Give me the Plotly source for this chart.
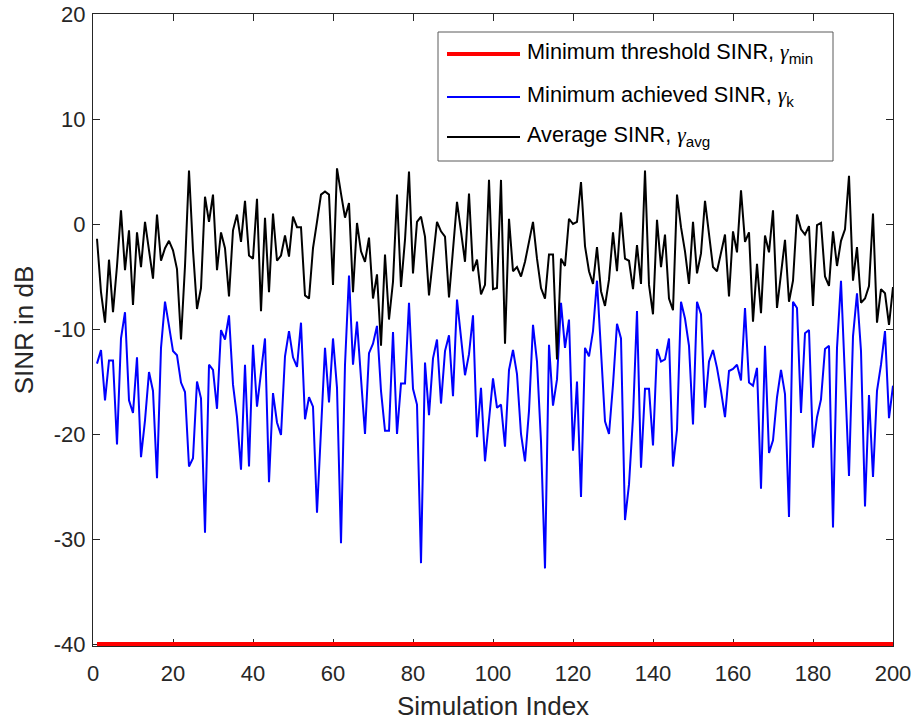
import plotly.graph_objects as go

# ---------------- data ----------------
sim_index = list(range(1, 201))

avg_sinr_db = [
    -1.4, -6.5, -9.4, -3.4, -8.4, -4.0, 1.3, -4.4, -0.6, -7.7,
    -0.8, -4.1, 0.2, -2.6, -5.2, 0.9, -3.5, -2.3, -1.6, -2.5,
    -4.3, -11.0, -4.0, 5.1, -2.5, -8.1, -6.1, 2.6, 0.2, 2.8,
    -4.4, -0.8, -2.3, -6.9, -0.6, 0.9, -1.7, 2.2, -3.0, -3.3,
    2.4, -8.3, 0.6, -6.5, 1.0, -3.5, -3.0, -1.1, -3.1, 0.7,
    -0.3, -0.3, -6.8, -7.1, -2.3, 0.2, 2.8, 3.1, 2.8, -5.8,
    5.3, 2.9, 0.6, 2.0, -6.5, 0.1, -2.6, -3.6, -1.3, -7.1,
    -4.8, -11.6, -2.9, -9.1, -5.5, 2.8, -6.0, -1.5, 5.0, -4.7,
    0.2, 0.7, -1.2, -6.8, -3.3, 0.2, -0.7, -1.2, -7.0, -2.6,
    2.1, -0.7, -3.6, 2.9, -4.5, -3.4, -6.7, -5.8, 4.2, -6.2,
    -6.1, 4.2, -11.4, 0.5, -4.5, -4.1, -5.0, -3.6, -1.7, 0.2,
    -3.3, -6.1, -7.1, -2.9, -2.9, -12.9, -3.3, -4.0, 0.5, 0.0,
    0.2, 4.0, -2.1, -4.5, -5.7, -2.2, -6.4, -7.8, -5.3, -0.8,
    -4.5, 1.1, -3.3, -3.5, -6.2, -2.0, -5.7, 5.1, -5.8, -8.6,
    0.4, -4.1, -1.0, -7.1, -8.2, 2.8, -0.3, -2.6, -5.7, 0.2,
    -4.7, -2.8, 2.2, -1.2, -4.1, -4.5, -2.6, -1.0, -6.9, -0.7,
    -2.7, 3.2, -1.7, -0.8, -9.3, -3.8, -8.5, -1.1, -2.7, 1.3,
    -8.0, -4.5, -1.5, -7.4, -5.4, 0.9, -0.5, -1.0, -0.2, -7.8,
    -0.1, 0.1, -5.0, -5.9, -0.7, -4.0, -1.6, -0.5, 4.6, -5.4,
    -2.2, -7.5, -7.1, -5.9, 1.0, -9.4, -6.2, -6.6, -9.6, -6.0,
]

min_achieved_sinr_db = [
    -13.3, -12.0, -16.8, -13.0, -13.0, -21.0, -10.9, -8.4, -16.8, -18.0,
    -12.7, -22.2, -18.7, -14.1, -15.9, -24.2, -11.8, -7.4, -9.7, -12.1,
    -12.5, -15.1, -16.0, -23.1, -22.3, -15.0, -16.6, -29.4, -13.4, -13.9,
    -17.6, -10.1, -11.0, -8.7, -15.3, -18.4, -23.4, -13.4, -23.1, -11.5,
    -17.4, -14.2, -10.9, -24.6, -16.1, -18.9, -20.1, -12.6, -10.2, -12.7,
    -13.6, -9.4, -18.6, -16.5, -17.4, -27.5, -19.7, -11.8, -17.0, -10.9,
    -15.6, -30.4, -13.4, -4.9, -13.4, -9.3, -14.7, -20.0, -12.3, -11.4,
    -9.7, -15.9, -19.7, -19.7, -10.3, -20.0, -15.2, -15.2, -7.5, -15.7,
    -17.2, -32.3, -13.2, -18.2, -12.8, -11.0, -17.1, -12.1, -10.6, -16.4,
    -7.2, -10.9, -14.4, -12.4, -8.7, -20.3, -15.6, -22.6, -18.6, -14.7,
    -17.5, -17.2, -21.2, -13.9, -12.0, -14.3, -20.0, -22.6, -17.8, -9.6,
    -13.1, -20.7, -32.8, -11.5, -17.3, -14.8, -7.5, -11.8, -9.1, -21.6,
    -15.0, -26.0, -11.8, -12.6, -10.2, -5.4, -12.1, -18.8, -20.0, -15.3,
    -9.5, -10.9, -28.2, -24.8, -18.4, -8.3, -23.2, -15.7, -15.7, -21.1,
    -11.9, -13.1, -12.9, -10.9, -23.1, -19.6, -7.4, -9.0, -11.6, -19.1,
    -7.4, -8.6, -17.5, -13.1, -12.0, -13.7, -15.9, -18.4, -14.0, -13.8,
    -13.4, -14.9, -8.0, -15.1, -15.4, -13.7, -25.2, -11.6, -21.8, -20.6,
    -16.5, -13.9, -16.2, -27.9, -7.4, -8.0, -18.0, -10.4, -10.1, -21.3,
    -18.4, -16.7, -11.9, -11.6, -28.9, -11.8, -5.4, -14.7, -24.0, -10.7,
    -6.6, -12.1, -26.9, -16.3, -24.1, -15.9, -13.4, -10.2, -18.5, -15.4,
]

min_threshold_db = -40.0
threshold_sinr_db = [min_threshold_db] * len(sim_index)

x_ticks = [0, 20, 40, 60, 80, 100, 120, 140, 160, 180, 200]
y_ticks = [-40, -30, -20, -10, 0, 10, 20]

legend_labels = [
    "Minimum threshold SINR, ",
    "Minimum achieved SINR, ",
    "Average SINR, ",
]
legend_subs = ["min", "k", "avg"]
legend_colors = ["#ff0000", "#0000ff", "#000000"]
legend_widths = [4, 2, 2]

# ---------------- layout geometry (pixels) ----------------
W, H = 914, 722
L, R, T, B = 93, 893, 14, 646
FONT = "Liberation Sans, Arial, Helvetica, sans-serif"
AX = "#262626"


def px2paper(px, py):
    return (px - L) / (R - L), (B - py) / (B - T)


fig = go.Figure()
fig.add_trace(go.Scatter(x=sim_index, y=threshold_sinr_db, mode="lines",
                         line=dict(color=legend_colors[0], width=legend_widths[0]),
                         name="Minimum threshold SINR"))
fig.add_trace(go.Scatter(x=sim_index, y=min_achieved_sinr_db, mode="lines",
                         line=dict(color=legend_colors[1], width=legend_widths[1]),
                         name="Minimum achieved SINR"))
fig.add_trace(go.Scatter(x=sim_index, y=avg_sinr_db, mode="lines",
                         line=dict(color=legend_colors[2], width=legend_widths[2]),
                         name="Average SINR"))

# custom MATLAB-like legend
shapes = []
annotations = []
x0, y0 = px2paper(438, 32)
x1, y1 = px2paper(833, 161)
shapes.append(dict(type="rect", xref="paper", yref="paper", x0=x0, y0=y0, x1=x1, y1=y1,
                   line=dict(color="#5a5a5a", width=1), fillcolor="white", layer="above"))
rows_py = [54, 97, 137]
for lab, sub, col, lw, py in zip(legend_labels, legend_subs, legend_colors, legend_widths, rows_py):
    ax0, ay = px2paper(447, py)
    ax1, _ = px2paper(520, py)
    shapes.append(dict(type="line", xref="paper", yref="paper", x0=ax0, y0=ay, x1=ax1, y1=ay,
                       line=dict(color=col, width=lw), layer="above"))
    tx, ty = px2paper(525, py - 1)
    annotations.append(dict(
        xref="paper", yref="paper", x=tx, y=ty, xanchor="left", yanchor="middle",
        showarrow=False,
        text=lab + '<span style="font-family:Liberation Serif, serif"><i>γ</i></span><sub>' + sub + "</sub>",
        font=dict(family=FONT, size=21.7, color="#000000"),
    ))

fig.update_layout(
    width=W, height=H,
    margin=dict(l=L, r=W - R, t=T, b=H - B, pad=0, autoexpand=False),
    paper_bgcolor="white", plot_bgcolor="white",
    showlegend=False,
    font=dict(family=FONT, color=AX),
    shapes=shapes,
    annotations=annotations,
)
fig.update_xaxes(
    range=[0, 200], tickvals=x_ticks, ticktext=[str(v) for v in x_ticks],
    ticks="inside", ticklen=7, tickwidth=1, tickcolor=AX,
    showline=True, linecolor=AX, linewidth=1, mirror="ticks",
    showgrid=False, zeroline=False, automargin=False,
    ticklabelstandoff=8,
    tickfont=dict(family=FONT, size=22, color=AX),
    title=dict(text="Simulation Index", font=dict(family=FONT, size=26, color=AX), standoff=11),
    layer="below traces",
)
fig.update_yaxes(
    range=[-40.19, 20], tickvals=y_ticks, ticktext=[str(v) for v in y_ticks],
    ticks="inside", ticklen=7, tickwidth=1, tickcolor=AX,
    showline=True, linecolor=AX, linewidth=1, mirror="ticks",
    showgrid=False, zeroline=False, automargin=False,
    ticklabelstandoff=2,
    tickfont=dict(family=FONT, size=22, color=AX),
    title=dict(text="SINR in dB", font=dict(family=FONT, size=26, color=AX), standoff=12),
    layer="below traces",
)

fig.write_html("out.html")
